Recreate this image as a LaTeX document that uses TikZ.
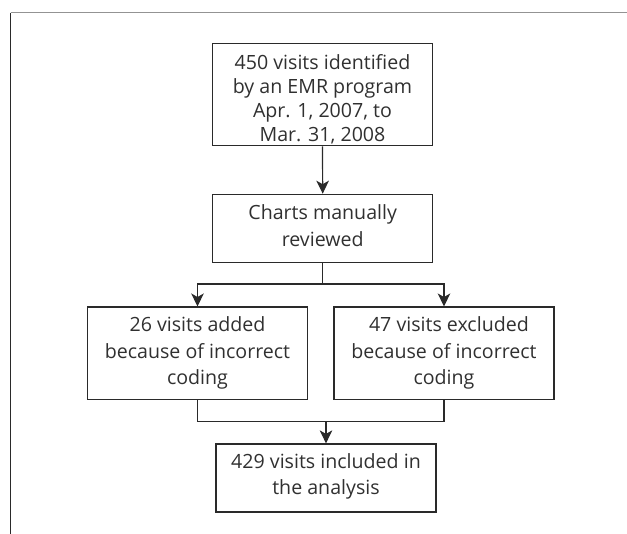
\documentclass[tikz,border=0pt]{standalone}
\usepackage{fontspec}
\setmainfont{Open Sans}
\usetikzlibrary{arrows.meta}
\definecolor{boxline}{HTML}{2A2A2A}
\definecolor{txt}{HTML}{303030}
\begin{document}
\begin{tikzpicture}[x=1pt,y=-1pt,
  box/.style={draw=boxline, line width=1.2pt, rectangle, inner sep=0pt},
  lbl/.style={anchor=south, inner sep=0pt, text depth=0pt, align=center, text=txt},
  big/.style={font=\fontsize{19.6}{26.6}\selectfont},
  small/.style={font=\fontsize{19.6}{23.9}\selectfont},
  conn/.style={draw=boxline, line width=1.2pt},
  arr/.style={conn, -{Stealth[length=13pt, width=12.5pt, inset=3.5pt]}}]
\useasboundingbox (0,0) rectangle (627,534);
% frame
\draw[color=gray!85, line width=1.6pt] (10.7,12.7) -- (627,12.7);
\draw[color=boxline, line width=1.4pt] (10.7,12.7) -- (10.7,534);
% boxes
\node[box, minimum width=219.6pt, minimum height=102.4pt] (b1) at (322.5,94.5) {};
\node[box, minimum width=220pt, minimum height=68pt] (b2) at (322.7,228.3) {};
\node[box, minimum width=219.6pt, minimum height=92.4pt] (b3) at (197.5,353.3) {};
\node[box, minimum width=220pt, minimum height=92.4pt] (b4) at (444,353.3) {};
\node[box, minimum width=220pt, minimum height=68pt] (b5) at (326,478) {};
% texts
\node[lbl, small] (t1) at (322.5,141.7) {450 visits identified\\by an EMR program\\Apr. 1, 2007, to\\Mar. 31, 2008};
\node[lbl, big] (t2) at (322.7,246.7) {Charts manually\\reviewed};
\node[lbl, big] (t3) at (197.5,385) {26 visits added\\because of incorrect\\coding};
\node[lbl, big] (t4) at (444,385) {\hspace*{0.5em}47 visits excluded\\because of incorrect\\coding};
\node[lbl, big] (t5) at (326,495) {429 visits included in\\the analysis};
% connector helper coordinates
\coordinate (ysplit) at (0,284);
\coordinate (ymerge) at (0,421.7);
\coordinate (split) at (b2.south |- ysplit);
\coordinate (merge) at (b5.north |- ymerge);
% connectors
\draw[arr] (b1.south) -- (b2.north);
\draw[conn] (b2.south) -- (split);
\draw[arr] (split) -| (b3.north);
\draw[arr] (split) -| (b4.north);
\draw[conn] (b3.south) |- (merge) -| (b4.south);
\draw[arr] (merge) -- (b5.north);
\end{tikzpicture}
\end{document}
